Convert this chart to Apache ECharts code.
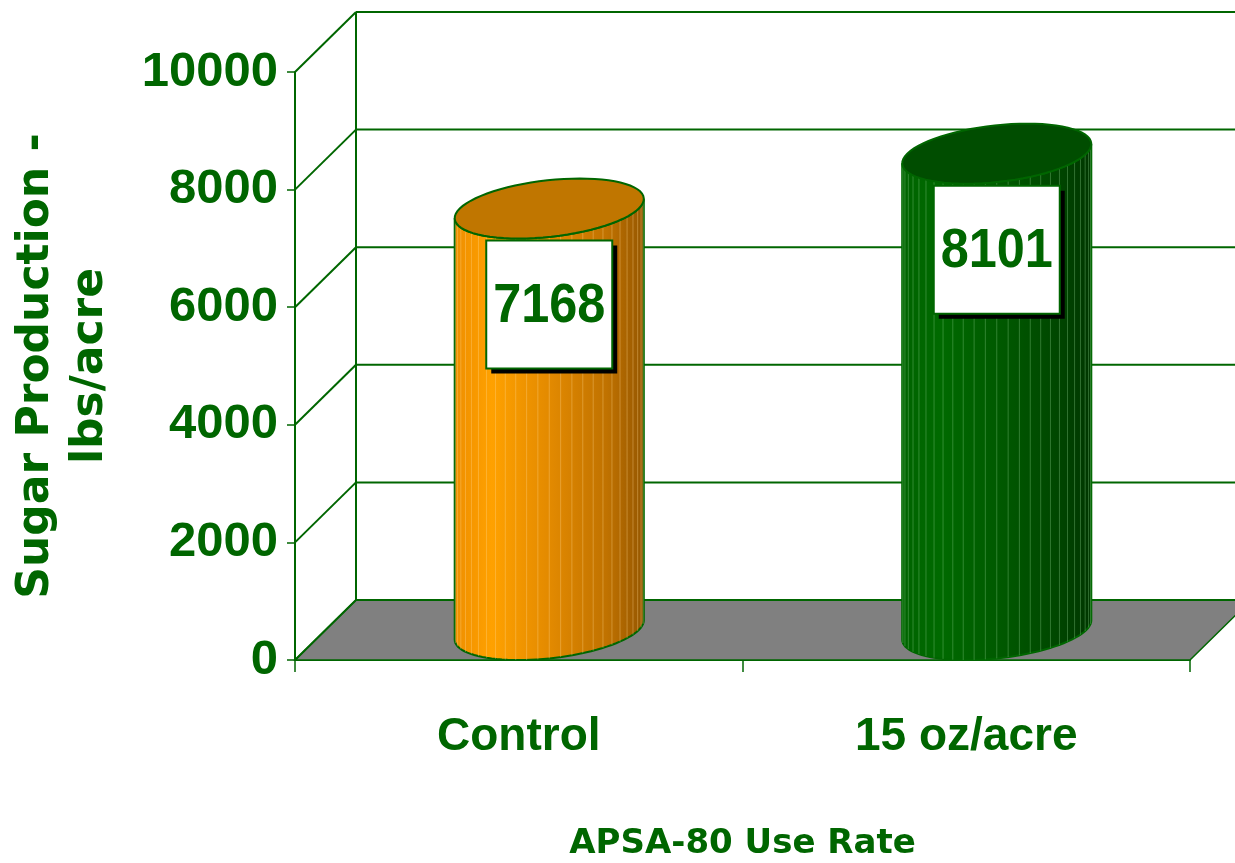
<!DOCTYPE html>
<html>
<head>
<meta charset="utf-8">
<script src="https://cdn.jsdelivr.net/npm/echarts@6/dist/echarts.min.js"></script>
<style>
html, body { margin: 0; padding: 0; background: #fff; }
#chart { width: 1235px; height: 863px; }
</style>
</head>
<body>
<div id="chart"></div>
<script>
// chart data
const categories = ['Control', '15 oz/acre']
const values = [7168, 8101]
const yTicks = [0, 2000, 4000, 6000, 8000, 10000]

const GREEN = '#006600'
// depth offset of the fake 3d box
const DX = 61
const DY = 60

const palette = [
    {
        top: '#c07600',
        stripe: 'rgba(255,215,140,0.35)',
        body: [
            { offset: 0, color: '#ee8e00' },
            { offset: 0.2, color: '#ffa100' },
            { offset: 0.5, color: '#e38a00' },
            { offset: 0.8, color: '#c07200' },
            { offset: 1, color: '#945600' }
        ]
    },
    {
        top: '#004d00',
        stripe: 'rgba(140,210,140,0.35)',
        body: [
            { offset: 0, color: '#006300' },
            { offset: 0.2, color: '#006a00' },
            { offset: 0.5, color: '#005a00' },
            { offset: 0.8, color: '#004800' },
            { offset: 1, color: '#003600' }
        ]
    }
]

const chart = echarts.init(document.getElementById('chart'))

const renderWall = (params, api) => {
    const cs = params.coordSys
    const v = api.value(1)
    const y = api.coord([0, v])[1]
    const x0 = cs.x
    const x1 = cs.x + cs.width
    const line = { stroke: GREEN, lineWidth: 2 }
    const children = []
    if (v === 0) {
        children.push({
            type: 'polygon',
            shape: { points: [[x0, y], [x1, y], [x1 + DX, y - DY], [x0 + DX, y - DY]] },
            style: { fill: '#808080', stroke: GREEN, lineWidth: 1.5 }
        })
        const yTop = api.coord([0, yTicks[yTicks.length - 1]])[1]
        children.push({
            type: 'line',
            shape: { x1: x0 + DX, y1: y - DY, x2: x0 + DX, y2: yTop - DY },
            style: line
        })
    }
    children.push({
        type: 'line',
        shape: { x1: x0, y1: y, x2: x0 + DX, y2: y - DY },
        style: line
    })
    children.push({
        type: 'line',
        shape: { x1: x0 + DX, y1: y - DY, x2: x1 + DX, y2: y - DY },
        style: line
    })
    return { type: 'group', children }
}

const renderCylinder = (params, api) => {
    const i = api.value(0)
    const v = api.value(1)
    const base = api.coord([i, 0])
    const top = api.coord([i, v])
    const R = api.size([1, 0])[0] * 0.2
    const a = DX / 2
    const b = DY / 2
    const cx = base[0] + a
    const yb = base[1] - b
    const yt = top[1] - b
    const c = palette[i]
    const pt = (cy, th) => [cx + R * Math.cos(th) + a * Math.sin(th), cy - b * Math.sin(th)]
    const th0 = Math.atan2(a, R)

    const steps = 48
    const front = []
    for (let k = 0; k <= steps; k++) front.push(Math.PI + th0 + Math.PI * k / steps)
    const bodyPts = front.map(t => pt(yb, t)).concat(front.slice().reverse().map(t => pt(yt, t)))

    const children = []
    children.push({
        type: 'polygon',
        shape: { points: bodyPts },
        style: {
            fill: { type: 'linear', x: 0, y: 0, x2: 1, y2: 0, colorStops: c.body },
            stroke: GREEN,
            lineWidth: 2
        }
    })
    // facet edges
    const facets = 26
    for (let k = 1; k < facets; k++) {
        const t = Math.PI + th0 + Math.PI * k / facets
        const p1 = pt(yt, t)
        const p2 = pt(yb, t)
        children.push({
            type: 'line',
            shape: { x1: p1[0], y1: p1[1], x2: p2[0], y2: p2[1] },
            style: { stroke: c.stripe, lineWidth: 1 }
        })
    }
    const topPts = []
    for (let k = 0; k < 72; k++) topPts.push(pt(yt, Math.PI * 2 * k / 72))
    children.push({
        type: 'polygon',
        shape: { points: topPts },
        style: { fill: c.top, stroke: GREEN, lineWidth: 2 }
    })

    // value box
    const bw = 126
    const bh = 128
    const by = top[1] + 2
    children.push({
        type: 'rect',
        shape: { x: cx - bw / 2 + 5, y: by + 5, width: bw, height: bh },
        style: { fill: '#000' }
    })
    children.push({
        type: 'rect',
        shape: { x: cx - bw / 2, y: by, width: bw, height: bh },
        style: { fill: '#fff', stroke: GREEN, lineWidth: 2 }
    })
    children.push({
        type: 'text',
        x: cx,
        y: by + bh / 2 + 2,
        scaleX: 0.9,
        style: {
            text: String(v),
            fill: GREEN,
            fontFamily: 'Liberation Sans, Arial, sans-serif',
            fontWeight: 'bold',
            fontSize: 56,
            align: 'center',
            verticalAlign: 'middle'
        }
    })
    return { type: 'group', children }
}

const option = {
    animation: false,
    grid: {
        left: 295,
        right: 45,
        top: 72,
        bottom: 203,
        containLabel: false,
        outerBoundsMode: 'none'
    },
    xAxis: {
        type: 'category',
        data: categories,
        name: 'APSA-80 Use Rate',
        nameLocation: 'middle',
        nameGap: 167,
        nameTextStyle: {
            color: GREEN,
            fontFamily: 'DejaVu Sans',
            fontWeight: 'bold',
            fontSize: 34
        },
        axisLine: { lineStyle: { color: GREEN, width: 2 } },
        axisTick: { show: true, length: 12, lineStyle: { color: GREEN, width: 1.5 } },
        axisLabel: {
            margin: 54,
            color: GREEN,
            fontFamily: 'Liberation Sans, Arial, sans-serif',
            fontWeight: 'bold',
            fontSize: 46
        },
        splitLine: { show: false }
    },
    yAxis: {
        type: 'value',
        min: 0,
        max: 10000,
        interval: 2000,
        name: 'Sugar Production -\nlbs/acre',
        nameLocation: 'middle',
        nameGap: 177,
        nameTextStyle: {
            color: GREEN,
            fontFamily: 'DejaVu Sans',
            fontWeight: 'bold',
            fontSize: 44,
            lineHeight: 54
        },
        axisLine: { show: true, lineStyle: { color: GREEN, width: 2 } },
        axisTick: { show: true, length: 8, lineStyle: { color: GREEN, width: 1.5 } },
        axisLabel: {
            margin: 17,
            color: GREEN,
            fontFamily: 'Liberation Sans, Arial, sans-serif',
            fontWeight: 'bold',
            fontSize: 49,
            formatter: v => String(v)
        },
        splitLine: { show: false }
    },
    series: [
        {
            name: 'walls',
            type: 'custom',
            clip: false,
            silent: true,
            z: 1,
            renderItem: renderWall,
            data: yTicks.map(v => [0, v])
        },
        {
            name: 'Sugar Production',
            type: 'custom',
            clip: false,
            z: 3,
            renderItem: renderCylinder,
            data: values.map((v, i) => [i, v])
        }
    ]
}

chart.setOption(option)
</script>
</body>
</html>
